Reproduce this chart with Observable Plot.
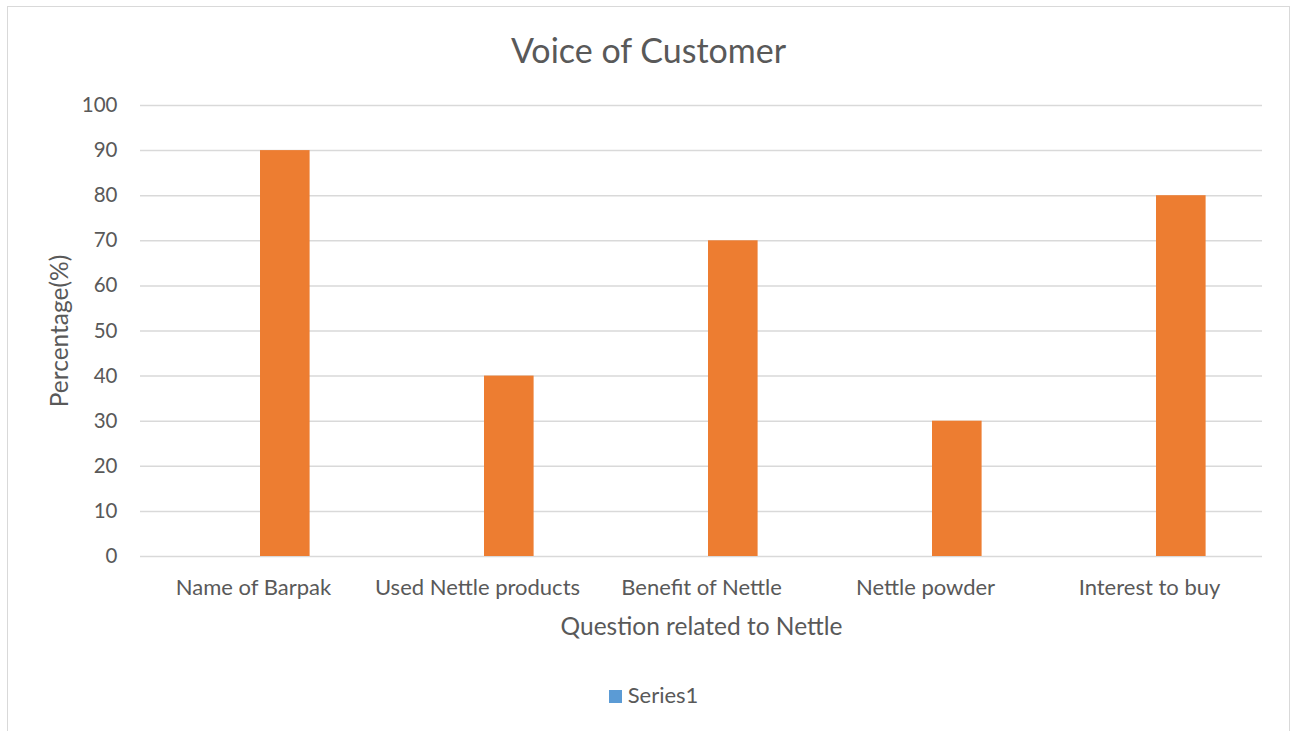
<!DOCTYPE html>
<html>
<head>
<meta charset="utf-8">
<script src="https://cdn.jsdelivr.net/npm/d3@7"></script>
<script src="https://cdn.jsdelivr.net/npm/@observablehq/plot@0.6"></script>
<style>
  html, body { margin: 0; padding: 0; background: #fff; overflow: hidden; }
  #wrap { position: relative; width: 1291px; height: 731px; font-family: Lato, "Open Sans", sans-serif; color: #595959; }
  #frame { position: absolute; left: 7px; top: 6px; width: 1283px; height: 740px; border: 1.5px solid #d9d9d9; box-sizing: border-box; }
  #title { position: absolute; left: 7px; width: 1283px; top: 28px; text-align: center; font-size: 34px; line-height: 44px; }
  #legend { position: absolute; left: 12px; width: 1283px; top: 682px; text-align: center; font-size: 22px; line-height: 26px; }
  #legend .sw { display: inline-block; width: 13px; height: 13px; background: #5B9BD5; margin-right: 6px; vertical-align: 0px; }
  #chart { position: absolute; left: 0; top: 0; }
</style>
</head>
<body>
<div id="wrap">
  <div id="frame"></div>
  <div id="chart"></div>
  <div id="title">Voice of Customer</div>
  <div id="legend"><span class="sw"></span>Series1</div>
</div>
<script>
const categories = ["Name of Barpak", "Used Nettle products", "Benefit of Nettle", "Nettle powder", "Interest to buy"];
const series1 = [0, 0, 0, 0, 0];
const series2 = [90, 40, 70, 30, 80];
const yTicks = [0, 10, 20, 30, 40, 50, 60, 70, 80, 90, 100];

const rows1 = categories.map((c, i) => ({category: c, value: series1[i]}));
const rows2 = categories.map((c, i) => ({category: c, value: series2[i]}));

const W = 1291, H = 731;
const mL = 140, mR = 29, mT = 105, mB = 175;
const band = (W - mL - mR) / categories.length;

const chart = Plot.plot({
  width: W,
  height: H,
  marginLeft: mL,
  marginRight: mR,
  marginTop: mT,
  marginBottom: mB,
  style: { fontFamily: "Lato, 'Open Sans', sans-serif", fontSize: "21px", color: "#595959", background: "transparent" },
  x: { domain: categories, padding: 0, label: null },
  y: { domain: [0, 100], label: null },
  marks: [
    Plot.gridY(yTicks, { stroke: "#d9d9d9", strokeOpacity: 1, strokeWidth: 1.5 }),
    Plot.barY(rows1, { x: "category", y: "value", fill: "#5B9BD5", insetLeft: 69, insetRight: band - 119 }),
    Plot.barY(rows2, { x: "category", y: "value", fill: "#ED7D31", insetLeft: 119, insetRight: band - 169 }),
    Plot.axisY(yTicks, { tickSize: 0, tickPadding: 23, fontSize: 20.5, fill: "#595959", label: null }),
    Plot.axisX({ tickSize: 0, tickPadding: 23, fontSize: 22, fill: "#595959", label: null }),
    Plot.text(["Question related to Nettle"], { frameAnchor: "bottom", lineAnchor: "middle", textAnchor: "middle", dy: 71, fontSize: 24.5, fill: "#595959" }),
    Plot.text(["Percentage(%)"], { frameAnchor: "left", lineAnchor: "middle", textAnchor: "middle", dx: -80, rotate: -90, fontSize: 24.5, fill: "#595959" })
  ]
});
document.getElementById("chart").appendChild(chart);
</script>
</body>
</html>
